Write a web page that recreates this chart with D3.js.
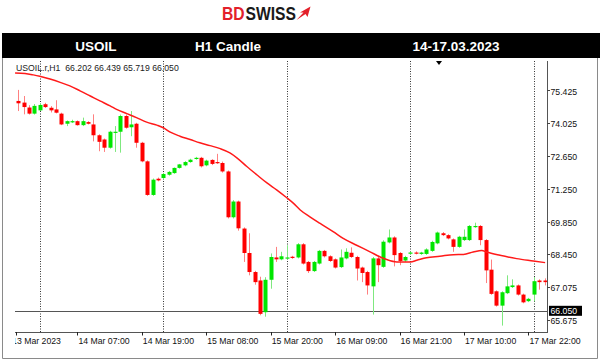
<!DOCTYPE html>
<html><head><meta charset="utf-8">
<script src="https://cdn.jsdelivr.net/npm/d3@7"></script>
<style>html,body{margin:0;padding:0;background:#fff;} svg{display:block;}</style>
</head><body>
<svg id="c" width="601" height="361"></svg>
<script>
// ---------- data ----------
const headerCells = ["USOIL", "H1 Candle", "14-17.03.2023"];
const symbolInfo = "USOIL.r,H1  66.202 66.439 65.719 66.050";

const open  = [74.98,74.91,74.70,74.44,74.58,74.84,74.69,74.62,74.44,74.01,74.08,74.12,73.95,74.08,73.98,73.52,73.34,72.99,73.65,73.67,
               74.34,73.86,74.01,73.20,72.41,70.98,71.67,71.70,71.84,71.91,72.13,72.24,72.38,72.52,72.56,72.24,72.47,72.38,72.34,71.98,
               70.03,70.70,69.55,68.51,67.70,67.34,65.99,67.37,68.32,68.24,68.28,68.35,68.32,68.88,68.13,67.74,68.06,68.60,68.37,68.24,
               67.91,68.28,68.52,68.34,67.89,67.70,67.09,68.28,67.92,68.96,69.17,68.51,68.19,68.49,68.53,68.47,68.47,68.60,68.92,69.35,
               69.27,69.09,68.77,69.06,69.06,69.62,69.66,69.06,67.80,66.88,66.27,66.80,67.06,67.13,66.74,66.46,66.74,67.34,67.34];
const high  = [75.45,75.19,74.80,74.85,74.88,74.90,74.76,75.01,74.48,74.15,74.18,74.15,74.27,74.12,74.41,73.56,73.38,73.71,73.91,74.40,
               74.40,74.55,74.05,73.24,72.45,71.68,71.72,71.92,72.00,72.15,72.30,72.42,72.52,72.60,72.60,72.48,72.50,72.73,72.40,72.02,
               70.76,70.74,69.60,69.35,67.75,67.50,67.48,68.49,68.77,68.56,68.84,68.39,68.93,68.93,68.17,68.17,68.64,68.64,68.41,68.28,
               68.66,68.71,68.75,68.39,67.93,67.75,68.34,68.34,69.05,69.51,69.22,68.55,68.39,68.58,68.58,68.56,68.71,69.03,69.42,69.40,
               69.31,69.13,69.24,69.51,69.70,69.80,69.70,69.10,68.23,66.92,66.88,67.56,67.39,67.17,66.78,66.60,67.48,67.39,67.43];
const low   = [74.55,74.41,74.40,74.40,74.55,74.68,74.49,74.45,73.95,73.91,74.04,73.93,73.91,73.98,73.26,72.84,72.81,72.95,72.81,72.78,
               73.80,73.48,72.99,72.37,70.94,70.94,71.56,71.65,71.80,71.88,72.10,72.20,72.35,72.48,72.15,72.20,72.25,72.30,71.93,69.98,
               69.98,69.46,68.13,67.56,67.16,65.86,65.80,66.99,68.13,68.20,68.24,68.26,68.28,68.02,67.66,67.70,68.02,68.32,68.13,67.85,
               67.87,68.24,68.30,67.34,67.27,66.74,65.89,67.27,67.88,68.92,67.94,67.99,68.13,68.45,68.45,68.43,68.43,68.56,68.88,69.23,
               69.09,68.56,68.73,69.02,69.02,69.58,68.84,67.23,66.73,66.23,65.42,66.76,67.02,66.70,66.37,66.42,66.45,66.95,67.13];
const close = [74.88,74.72,74.44,74.77,74.81,74.72,74.58,74.48,73.98,74.12,74.12,73.95,74.12,74.01,73.52,73.24,72.99,73.67,73.67,74.34,
               73.84,73.98,73.20,72.41,70.98,71.63,71.60,71.87,71.96,72.13,72.28,72.38,72.48,72.56,72.20,72.44,72.30,72.33,71.98,70.03,
               70.70,69.56,68.51,67.70,67.27,65.92,67.37,68.34,68.24,68.37,68.32,68.30,68.88,68.06,67.74,68.13,68.60,68.37,68.17,67.89,
               68.32,68.56,68.34,67.85,67.66,67.13,68.28,67.99,68.99,69.17,68.42,68.17,68.34,68.53,68.49,68.53,68.66,68.98,69.38,69.27,
               69.13,68.77,69.20,69.20,69.66,69.66,69.06,67.77,66.77,66.27,66.84,67.09,67.13,66.74,66.41,66.56,67.31,67.27,67.27];

// moving average (bar index, price)
const maIdx = [-0.6,1.25,2.8,4.0,5.9,7.8,9.6,11.5,13.4,15.2,17.1,18.3,20.2,22.0,23.9,25.8,27.0,28.3,30.1,32.0,33.8,35.7,37.6,39.4,40.7,
               42.5,44.4,46.3,48.1,50.0,51.2,52.5,54.3,56.2,58.7,60.5,63.0,65.5,67.4,68.6,70.5,73.0,74.2,76.0,78.5,81.0,82.9,84.7,86.3,87.2,
               89.7,92.8,95.9,98.1];
const maVal = [76.17,76.15,76.09,76.03,75.91,75.77,75.62,75.41,75.19,74.98,74.77,74.62,74.44,74.27,74.08,73.95,73.84,73.65,73.48,73.34,73.20,73.08,72.95,72.77,72.56,
               72.20,71.84,71.49,71.20,70.86,70.63,70.34,70.05,69.77,69.41,69.13,68.84,68.56,68.34,68.23,68.13,68.13,68.20,68.31,68.37,68.44,68.45,68.55,68.62,68.55,
               68.41,68.27,68.17,68.10];

const yTicks = [75.425, 74.025, 72.650, 71.250, 69.850, 68.450, 67.075, 65.675];
const bidPrice = 66.050;
const xLabelIdx  = [-0.5, 11, 23, 35, 47, 59, 71, 83, 95];
const xLabelText = ["13 Mar 2023","14 Mar 07:00","14 Mar 19:00","15 Mar 08:00","15 Mar 20:00","16 Mar 09:00","16 Mar 21:00","17 Mar 10:00","17 Mar 22:00"];
const separatorIdx = [4, 27, 50, 73, 96];

// ---------- layout ----------
const svg = d3.select("#c");
const P = {l: 15, r: 547, t: 59, b: 332};
const x = d3.scaleLinear().domain([-0.615, 98.45]).range([P.l, P.r]);
const y = d3.scaleLinear().domain([65.148, 76.765]).range([P.b, P.t]);
const font = "'Liberation Sans', Arial, sans-serif";

// frame
svg.append("rect").attr("x",0).attr("y",0).attr("width",601).attr("height",361).attr("fill","#fff");
svg.append("path").attr("d","M2.5,58V358.5H597.5V58").attr("fill","none").attr("stroke","#8a8a8a").attr("stroke-width",1);

// logo: two texts, placed side by side inside a horizontally condensed group
const logo = svg.append("g").attr("transform","translate(222,0) scale(0.87,1)");
const bd = logo.append("text").attr("x",0).attr("y",20.5).attr("font-family",font).attr("font-weight","bold")
  .attr("font-size",18).attr("fill","#e3202a").text("BD");
const bdW = bd.node().getComputedTextLength();
logo.append("text").attr("x",bdW+1).attr("y",20.5).attr("font-family",font).attr("font-weight","bold")
  .attr("font-size",18).attr("fill","#1a1a1a").text("SWISS");
svg.append("path").attr("d","M296.5,20 L303.5,12.5 L300,12.5 L310.5,6.5 L307.5,17 L305.5,14 Z").attr("fill","#e3202a");

// header bar
svg.append("rect").attr("x",2).attr("y",33).attr("width",598).attr("height",25).attr("fill","#000");
const cellCx = [96, 228, 456];
svg.selectAll("text.hdr").data(headerCells).join("text").attr("class","hdr")
  .attr("x",(d,i)=>cellCx[i]).attr("y",50.5).attr("text-anchor","middle")
  .attr("font-family",font).attr("font-weight","bold").attr("font-size",13.5).attr("fill","#fff").text(d=>d);

// clip
svg.append("clipPath").attr("id","plot").append("rect").attr("x",P.l).attr("y",P.t).attr("width",P.r-P.l).attr("height",P.b-P.t);

// period separators
svg.selectAll("line.sep").data(separatorIdx).join("line").attr("class","sep")
  .attr("x1",d=>Math.round(x(d))+0.5).attr("x2",d=>Math.round(x(d))+0.5).attr("y1",P.t+2).attr("y2",P.b)
  .attr("stroke","#333").attr("stroke-dasharray","1,1.5").attr("stroke-width",1);

// bid line
svg.append("line").attr("x1",P.l).attr("x2",P.r).attr("y1",Math.round(y(bidPrice))+0.5).attr("y2",Math.round(y(bidPrice))+0.5)
  .attr("stroke","#555").attr("stroke-width",1);

// candles
const idx = d3.range(open.length);
const g = svg.append("g").attr("clip-path","url(#plot)");
const bull = i => close[i] >= open[i];
g.selectAll("line.wick").data(idx).join("line").attr("class","wick")
  .attr("x1",i=>Math.round(x(i))+0.5).attr("x2",i=>Math.round(x(i))+0.5)
  .attr("y1",i=>y(high[i])).attr("y2",i=>y(low[i]))
  .attr("stroke",i=>bull(i)?"#7fe87f":"#ff8080").attr("stroke-width",1);
g.selectAll("rect.body").data(idx).join("rect").attr("class","body")
  .attr("x",i=>Math.round(x(i))-1.5).attr("width",4)
  .attr("y",i=>y(Math.max(open[i],close[i])))
  .attr("height",i=>Math.max(1.2, y(Math.min(open[i],close[i]))-y(Math.max(open[i],close[i]))))
  .attr("fill",i=>bull(i)?"#00e600":"#ff0000");

// moving average
g.append("path").datum(d3.zip(maIdx, maVal))
  .attr("d", d3.line().x(d=>x(d[0])).y(d=>y(d[1])).curve(d3.curveMonotoneX))
  .attr("fill","none").attr("stroke","#ff1a1a").attr("stroke-width",1.5);

// x axis line
svg.append("line").attr("x1",P.l).attr("x2",P.r).attr("y1",P.b+0.5).attr("y2",P.b+0.5).attr("stroke","#555");
// right axis line
svg.append("line").attr("x1",P.r+0.5).attr("x2",P.r+0.5).attr("y1",P.t+2).attr("y2",P.b+1).attr("stroke","#555");

// y ticks
const yAxisG = svg.append("g");
yAxisG.selectAll("line").data(yTicks).join("line")
  .attr("x1",P.r).attr("x2",P.r+3).attr("y1",d=>Math.round(y(d))+0.5).attr("y2",d=>Math.round(y(d))+0.5).attr("stroke","#444");
yAxisG.selectAll("text").data(yTicks).join("text")
  .attr("x",P.r+3.5).attr("y",d=>y(d)+1).attr("dy","0.35em")
  .attr("font-family",font).attr("font-size",8.7).attr("fill","#111").text(d=>d3.format(".3f")(d));

// bid label (drawn over the lower tick label, as in the terminal)
svg.append("rect").attr("x",P.r+2).attr("y",y(bidPrice)-5).attr("width",33).attr("height",10).attr("fill","#000");
svg.append("text").attr("x",P.r+3.5).attr("y",y(bidPrice)).attr("dy","0.35em")
  .attr("font-family",font).attr("font-size",8.7).attr("fill","#fff").text(d3.format(".3f")(bidPrice));

// x labels
svg.append("clipPath").attr("id","xl").append("rect").attr("x",P.l).attr("y",P.b).attr("width",601-P.l).attr("height",25);
const xg = svg.append("g").attr("clip-path","url(#xl)");
xg.selectAll("line").data(xLabelIdx).join("line")
  .attr("x1",d=>Math.round(x(d))+0.5).attr("x2",d=>Math.round(x(d))+0.5).attr("y1",P.b).attr("y2",P.b+3.5).attr("stroke","#222");
xg.selectAll("text").data(xLabelIdx).join("text")
  .attr("x",(d,i)=>x(d)+(i===0?-3.5:1)).attr("y",P.b+11.5)
  .attr("font-family",font).attr("font-size",8.7).attr("fill","#111").text((d,i)=>xLabelText[i]);

// symbol info
svg.append("text").attr("x",16).attr("y",71).attr("font-family",font).attr("font-size",8.7).attr("fill","#222")
  .attr("xml:space","preserve").text(symbolInfo);

// shift marker
svg.append("path").attr("d","M436,61 L442,61 L439,65 Z").attr("fill","#000");
</script>
</body></html>
